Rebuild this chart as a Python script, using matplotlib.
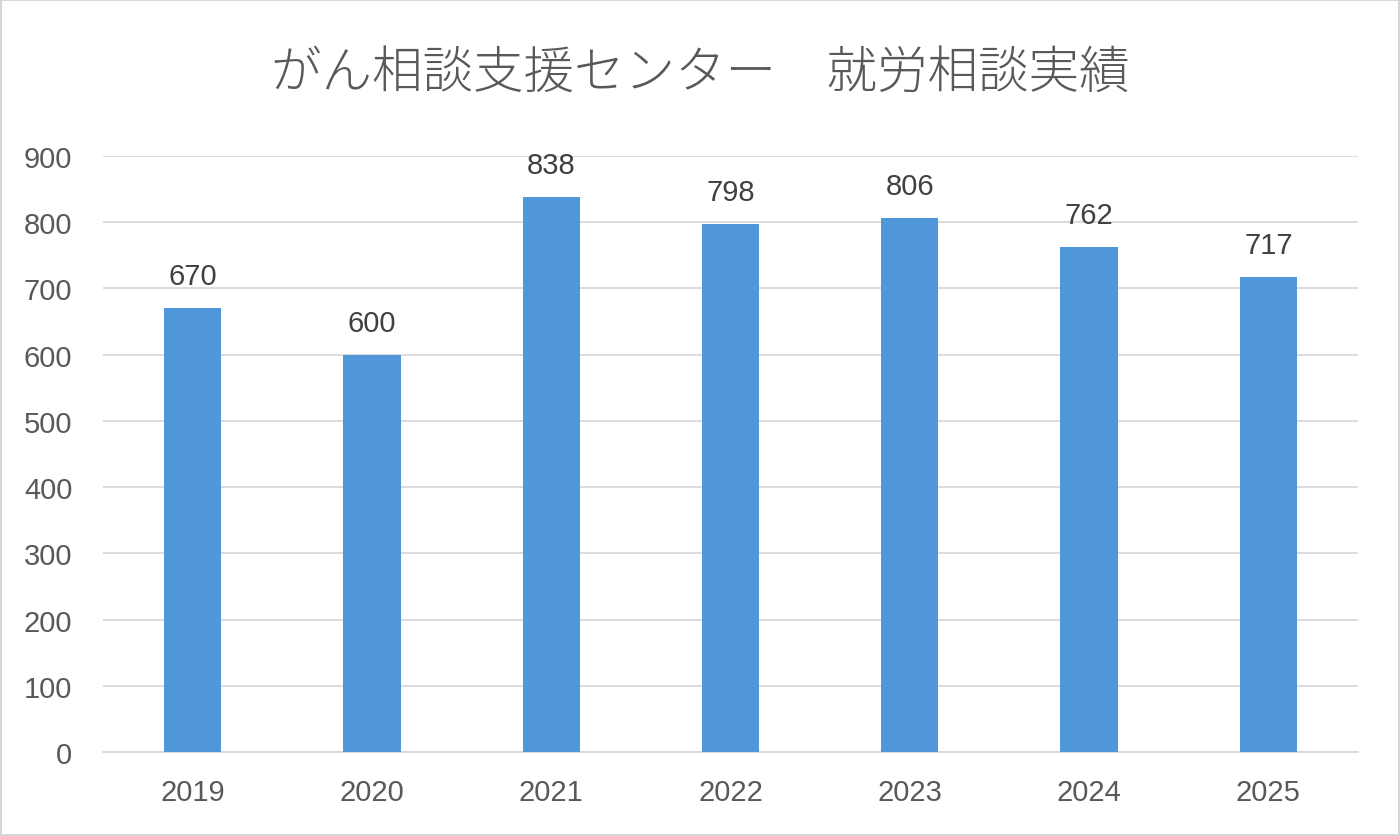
import matplotlib
matplotlib.use('Agg')
import matplotlib.pyplot as plt
from matplotlib.patches import Rectangle

plt.rcParams['font.family'] = ['Liberation Sans', 'Noto Sans CJK JP', 'DejaVu Sans']

# data
years = ['2019', '2020', '2021', '2022', '2023', '2024', '2025']
counts = [670, 600, 838, 798, 806, 762, 717]
title = 'がん相談支援センター\u3000就労相談実績'

bar_color = '#4F96DB'
text_color = '#595959'

fig = plt.figure(figsize=(14, 8.37), dpi=100)
fig.patches.append(Rectangle((0.001, 0.001), 0.998, 0.998, transform=fig.transFigure,
                             fill=False, edgecolor='#D0D0D0', linewidth=1.2))
ax = fig.add_axes([0.0736, 0.1004, 0.8964, 0.712])

x = range(len(years))
bars = ax.bar(x, counts, width=0.32, color=bar_color, zorder=3)
for xi, v in zip(x, counts):
    ax.annotate(str(v), (xi, v), xytext=(0, 13), textcoords='offset points',
                ha='center', va='bottom', fontsize=21, color='#404040')

ax.set_xlim(-0.5, len(years) - 0.5)
ax.set_ylim(0, 900)
ax.set_yticks(range(0, 901, 100))
ax.set_xticks(list(x))
ax.set_xticklabels(years)
ax.tick_params(axis='both', length=0, labelsize=21, labelcolor=text_color)
ax.tick_params(axis='x', pad=19)
ax.tick_params(axis='y', pad=22)
ax.grid(axis='y', color='#D9D9D9', linewidth=1.3, zorder=0)
for s in ['top', 'right', 'left']:
    ax.spines[s].set_visible(False)
ax.spines['bottom'].set_color('#D9D9D9')
ax.spines['bottom'].set_linewidth(1.3)

fig.text(0.5, 0.912, title, ha='center', va='center', fontsize=36.4,
         color=text_color, family=['Noto Sans CJK JP', 'DejaVu Sans'], fontweight='light')

fig.savefig('out.png', dpi=100)
